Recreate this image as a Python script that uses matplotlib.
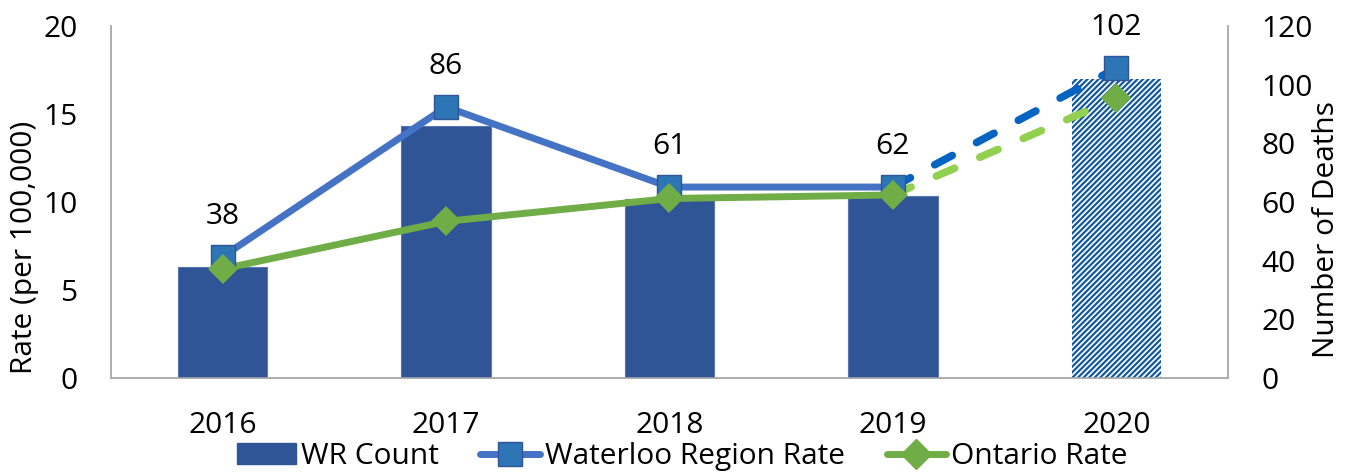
import matplotlib
matplotlib.use("Agg")
import matplotlib.pyplot as plt
import numpy as np
from matplotlib.lines import Line2D
from matplotlib.patches import Patch

plt.rcParams['font.family'] = ['Open Sans', 'DejaVu Sans']
plt.rcParams['hatch.linewidth'] = 1.6

years = ['2016', '2017', '2018', '2019', '2020']
wr_count = [38, 86, 61, 62, 102]
wr_rate = [6.9, 15.4, 10.85, 10.85, 17.6]
on_rate = [6.2, 8.9, 10.2, 10.4, 15.9]

x = np.arange(len(years))
fs = 21.5

fig = plt.figure(figsize=(13.53, 4.72), dpi=100)
ax = fig.add_axes([0.082, 0.199, 0.8256, 0.746])
ax2 = ax.twinx()

# counts on the right axis, 2020 bar hatched
ax2.bar(x[:-1], wr_count[:-1], width=0.4, color='#2F5597', edgecolor='#5877B0', linewidth=0.8, zorder=1)
ax2.bar(x[-1:], wr_count[-1:], width=0.4, color='white', edgecolor='#13599E', linewidth=0, hatch='//////', zorder=1)
ax2.set_ylim(0, 120)
ax2.set_yticks(range(0, 121, 20))

# rates on an overlay axis sharing the left scale
ax3 = ax.twinx()
ax3.set_ylim(0, 20)
ax3.axis('off')

ax3.plot(x[3:], wr_rate[3:], color='#0563C1', lw=5.5, dashes=(2.6, 3.6), dash_capstyle='round', zorder=2)
ax3.plot(x[3:], on_rate[3:], color='#92D050', lw=5.5, dashes=(2.6, 3.6), dash_capstyle='round', zorder=2)
ax3.plot(x[:4], wr_rate[:4], color='#4472C4', lw=5, zorder=3)
ax3.plot(x[:4], on_rate[:4], color='#70AD47', lw=5, zorder=3)
ax3.plot(x, wr_rate, ls='none', marker='s', ms=17, mfc='#2E75B6', mec='#2F5597', mew=1, zorder=4)
ax3.plot(x, on_rate, ls='none', marker='D', ms=15, mfc='#70AD47', mec='#70AD47', mew=0, zorder=5)

for xi, r, c in zip(x, wr_rate, wr_count):
    ax3.annotate(str(c), (xi, r), xytext=(0, 29), textcoords='offset points',
                 ha='center', va='center', fontsize=fs)

ax.set_ylim(0, 20)
ax.set_yticks(range(0, 21, 5))
ax.set_xticks(x)
ax.set_xticklabels(years)

for a in (ax, ax2, ax3):
    a.set_xlim(-0.5, 4.5)
    a.spines['top'].set_visible(False)
    for s in ('left', 'right', 'bottom'):
        a.spines[s].set_color('#ABABAB')
        a.spines[s].set_linewidth(1.1)
ax.tick_params(axis='both', length=0, labelsize=fs)
ax.tick_params(axis='y', pad=24)
ax.tick_params(axis='x', pad=24)
ax2.tick_params(axis='y', length=0, labelsize=fs, pad=24)

ax.set_ylabel('Rate (per 100,000)', fontsize=fs)
ax.yaxis.label.set_va('center')
ax.yaxis.set_label_coords(-0.077, 0.37)
ax2.set_ylabel('Number of Deaths', fontsize=fs)
ax2.yaxis.label.set_va('center')
ax2.yaxis.set_label_coords(1.0886, 0.423)

handles = [Patch(color='#2F5597'),
           Line2D([], [], color='#4472C4', lw=5, marker='s', ms=17, mfc='#2E75B6', mec='#2F5597', solid_capstyle='round'),
           Line2D([], [], color='#70AD47', lw=5, marker='D', ms=15, mfc='#70AD47', mec='#70AD47', solid_capstyle='round')]
fig.legend(handles, ['WR Count', 'Waterloo Region Rate', 'Ontario Rate'], loc='center',
           bbox_to_anchor=(0.504, 0.032), ncol=3, frameon=False, fontsize=fs,
           handlelength=2.0, handletextpad=0.15, columnspacing=1.4, borderpad=0, borderaxespad=0)

fig.savefig('out.png', dpi=100)
